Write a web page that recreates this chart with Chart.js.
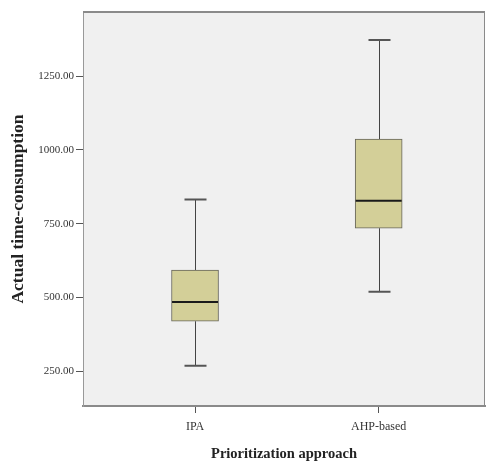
<!DOCTYPE html>
<html>
<head>
<meta charset="utf-8">
<script src="https://cdn.jsdelivr.net/npm/chart.js@4.4.1/dist/chart.umd.min.js"></script>
<style>
  body { margin: 0; background: #fff; }
  #wrap { width: 486px; height: 461px; }
</style>
</head>
<body>
<div id="wrap"><canvas id="box_plot"></canvas></div>
<script>
// values
const categories = ['IPA', 'AHP-based'];
const lowerWhisker = [269, 520];
const q1 = [420, 735];
const median = [485, 828];
const q3 = [593, 1037];
const upperWhisker = [832, 1372];
const yTicks = [250, 500, 750, 1000, 1250];

const FONT = "'Liberation Serif', 'DejaVu Serif', serif";

// plot area background, frame, whiskers and medians
const boxParts = {
  id: 'boxParts',
  beforeDraw(chart) {
    const a = chart.chartArea, ctx = chart.ctx;
    ctx.save();
    ctx.fillStyle = '#f0f0f0';
    ctx.fillRect(a.left, a.top, a.right - a.left, a.bottom - a.top);
    ctx.restore();
  },
  beforeDatasetsDraw(chart) {
    const ctx = chart.ctx, x = chart.scales.x, y = chart.scales.y;
    ctx.save();
    categories.forEach((c, i) => {
      const px = Math.round(x.getPixelForValue(i + 1)) + 0.5;
      const lo = y.getPixelForValue(lowerWhisker[i]);
      const hi = y.getPixelForValue(upperWhisker[i]);
      ctx.strokeStyle = '#444';
      ctx.lineWidth = 1;
      ctx.beginPath();
      ctx.moveTo(px, lo); ctx.lineTo(px, y.getPixelForValue(q1[i]));
      ctx.moveTo(px, hi); ctx.lineTo(px, y.getPixelForValue(q3[i]));
      ctx.stroke();
      ctx.lineWidth = 2;
      ctx.strokeStyle = '#555';
      ctx.beginPath();
      ctx.moveTo(px - 11, lo); ctx.lineTo(px + 11, lo);
      ctx.moveTo(px - 11, hi); ctx.lineTo(px + 11, hi);
      ctx.stroke();
    });
    ctx.restore();
  },
  afterDatasetsDraw(chart) {
    const ctx = chart.ctx, x = chart.scales.x, y = chart.scales.y, a = chart.chartArea;
    ctx.save();
    ctx.strokeStyle = '#1a1a1a';
    ctx.lineWidth = 2;
    categories.forEach((c, i) => {
      const px = x.getPixelForValue(i + 1);
      const py = y.getPixelForValue(median[i]);
      ctx.beginPath();
      ctx.moveTo(px - 23, py); ctx.lineTo(px + 23, py);
      ctx.stroke();
    });
    // top and right edges of the frame
    ctx.strokeStyle = '#8a8a8a';
    ctx.lineWidth = 2;
    ctx.beginPath();
    ctx.moveTo(a.left, a.top); ctx.lineTo(a.right, a.top);
    ctx.stroke();
    ctx.lineWidth = 1;
    ctx.beginPath();
    ctx.moveTo(a.right - 0.5, a.top); ctx.lineTo(a.right - 0.5, a.bottom);
    ctx.stroke();
    ctx.restore();
  }
};

new Chart(document.getElementById('box_plot'), {
  type: 'bar',
  data: {
    datasets: [{
      data: categories.map((c, i) => ({ x: i + 1, y: [q1[i], q3[i]] })),
      backgroundColor: '#d3cf98',
      borderColor: '#66655a',
      borderWidth: 1,
      borderSkipped: false,
      barThickness: 47
    }]
  },
  plugins: [boxParts],
  options: {
    responsive: true,
    maintainAspectRatio: false,
    animation: false,
    layout: { padding: { top: 12, right: 1, left: 0, bottom: 0 } },
    plugins: { legend: { display: false }, tooltip: { enabled: false } },
    scales: {
      x: {
        type: 'linear',
        min: 0.39,
        max: 2.579,
        offset: false,
        bounds: 'data',
        afterBuildTicks: (s) => { s.ticks = categories.map((c, i) => ({ value: i + 1 })); },
        afterFit: (s) => { s.height = 55; },
        grid: { offset: false, drawOnChartArea: false, drawTicks: true, tickLength: 7, color: '#555' },
        border: { color: '#8a8a8a', width: 2 },
        ticks: {
          callback: (v) => categories[v - 1],
          font: { family: FONT, size: 12 },
          color: '#333',
          padding: 7,
          maxRotation: 0
        },
        title: {
          display: true,
          text: 'Prioritization approach',
          font: { family: FONT, size: 14.5, weight: 'bold', lineHeight: 1 },
          color: '#222',
          padding: { top: 0, bottom: 0 }
        }
      },
      y: {
        min: 133,
        max: 1467,
        afterBuildTicks: (s) => { s.ticks = yTicks.map(v => ({ value: v })); },
        afterFit: (s) => { s.width = 83; },
        grid: { drawOnChartArea: false, drawTicks: true, tickLength: 7, color: '#555' },
        border: { color: '#999', width: 1 },
        ticks: {
          callback: (v) => v.toFixed(2),
          font: { family: FONT, size: 11 },
          color: '#333',
          padding: 2
        },
        title: {
          display: true,
          text: 'Actual time-consumption',
          font: { family: FONT, size: 17.5, weight: 'bold' },
          color: '#222',
          padding: { top: 8, bottom: 0 }
        }
      }
    }
  }
});
</script>
</body>
</html>
